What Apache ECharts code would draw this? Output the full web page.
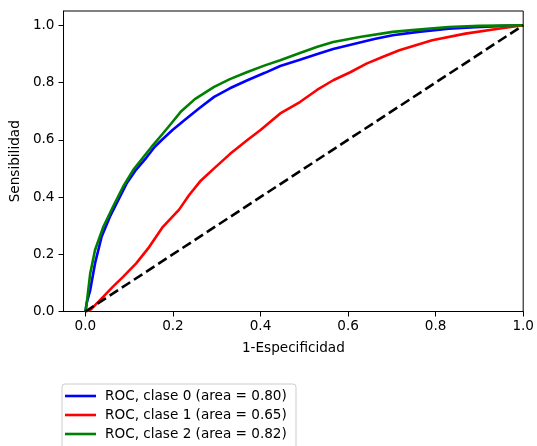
<!DOCTYPE html>
<html>
<head>
<meta charset="utf-8">
<script src="https://cdn.jsdelivr.net/npm/echarts@6/dist/echarts.min.js"></script>
<style>
html,body{margin:0;padding:0;background:#fff;}
#chart{width:537px;height:446px;}
</style>
</head>
<body>
<div id="chart"></div>
<script>
// ---- data ----
const seriesNames = ['ROC, clase 0 (area = 0.80)', 'ROC, clase 1 (area = 0.65)', 'ROC, clase 2 (area = 0.82)'];
const tickValues = [0, 0.2, 0.4, 0.6, 0.8, 1.0];

// clase 0 (blue)
const fpr0 = [0, 0.003, 0.011, 0.022, 0.037, 0.056, 0.079, 0.094, 0.116, 0.139, 0.158, 0.175, 0.199, 0.226, 0.26, 0.294, 0.33, 0.37, 0.41, 0.445, 0.49, 0.53, 0.566, 0.62, 0.66, 0.702, 0.76, 0.83, 0.89, 0.943, 1];
const tpr0 = [0, 0.03, 0.075, 0.168, 0.261, 0.331, 0.401, 0.447, 0.496, 0.537, 0.575, 0.6, 0.634, 0.668, 0.71, 0.75, 0.78, 0.808, 0.834, 0.858, 0.88, 0.9, 0.917, 0.937, 0.952, 0.965, 0.977, 0.988, 0.993, 0.997, 1];

// clase 1 (red)
const fpr1 = [0, 0.011, 0.041, 0.063, 0.086, 0.116, 0.146, 0.177, 0.214, 0.237, 0.264, 0.294, 0.33, 0.37, 0.40, 0.445, 0.49, 0.529, 0.566, 0.605, 0.642, 0.68, 0.717, 0.792, 0.868, 0.943, 1];
const tpr1 = [0, 0.005, 0.052, 0.087, 0.121, 0.168, 0.226, 0.296, 0.356, 0.407, 0.458, 0.5, 0.55, 0.599, 0.634, 0.692, 0.732, 0.774, 0.808, 0.836, 0.866, 0.89, 0.913, 0.948, 0.971, 0.988, 1];

// clase 2 (green)
const fpr2 = [0, 0.003, 0.011, 0.022, 0.041, 0.063, 0.086, 0.109, 0.139, 0.151, 0.177, 0.196, 0.219, 0.25, 0.294, 0.33, 0.37, 0.41, 0.445, 0.49, 0.53, 0.566, 0.63, 0.702, 0.76, 0.83, 0.9, 1];
const tpr2 = [0, 0.029, 0.133, 0.215, 0.296, 0.366, 0.436, 0.494, 0.552, 0.575, 0.622, 0.657, 0.7, 0.742, 0.785, 0.812, 0.837, 0.86, 0.878, 0.903, 0.925, 0.942, 0.96, 0.977, 0.985, 0.994, 0.998, 1];

// chance diagonal
const diagX = [0, 1];
const diagY = [0, 1];

const zip = (xs, ys) => xs.map((x, i) => [x, ys[i]]);

const FONT = 'DejaVu Sans';
const FS = 13.6;

const chart = echarts.init(document.getElementById('chart'), null, {renderer: 'canvas'});

const lineSeries = (name, xs, ys, color) => ({
  name: name,
  type: 'line',
  data: zip(xs, ys),
  showSymbol: false,
  symbol: 'none',
  smooth: false,
  animation: false,
  lineStyle: {color: color, width: 2.6},
  itemStyle: {color: color},
  z: 2
});

chart.setOption({
  animation: false,
  backgroundColor: '#fff',
  textStyle: {fontFamily: FONT},
  grid: {left: 61, right: 12, top: 11, bottom: 134.5, show: true, borderColor: '#000', borderWidth: 1, backgroundColor: 'transparent'},
  graphic: [{
    type: 'rect',
    left: 61.5, top: 383.5,
    shape: {width: 234, height: 80, r: 3},
    style: {fill: '#fff', stroke: '#cccccc', lineWidth: 1},
    z: 0
  }],
  legend: {
    orient: 'vertical',
    left: 65,
    top: 388,
    padding: 0,
    itemGap: 3,
    itemWidth: 31,
    itemHeight: 2.6,
    icon: 'rect',
    data: seriesNames,
    textStyle: {fontFamily: FONT, fontSize: FS, color: '#000', lineHeight: 16, padding: [0, 0, 0, 4]},
    z: 5
  },
  xAxis: {
    type: 'value',
    min: -0.05,
    max: 1.0,
    name: '1-Especificidad',
    nameLocation: 'middle',
    nameGap: 30,
    nameTextStyle: {fontFamily: FONT, fontSize: FS, color: '#000'},
    splitLine: {show: false},
    axisLine: {show: true, onZero: false, lineStyle: {color: '#000', width: 1}},
    axisTick: {show: true, length: 5, inside: false, customValues: tickValues, lineStyle: {color: '#000', width: 1}},
    axisLabel: {
      show: true, margin: 8, customValues: tickValues,
      fontFamily: FONT, fontSize: FS, color: '#000',
      formatter: v => v.toFixed(1)
    }
  },
  yAxis: {
    type: 'value',
    min: 0,
    max: 1.05,
    name: 'Sensibilidad',
    nameLocation: 'middle',
    nameGap: 33,
    nameTextStyle: {fontFamily: FONT, fontSize: FS, color: '#000'},
    splitLine: {show: false},
    axisLine: {show: true, onZero: false, lineStyle: {color: '#000', width: 1}},
    axisTick: {show: true, length: 5, inside: false, customValues: tickValues, lineStyle: {color: '#000', width: 1}},
    axisLabel: {
      show: true, margin: 9, customValues: tickValues,
      fontFamily: FONT, fontSize: FS, color: '#000',
      formatter: v => v.toFixed(1)
    }
  },
  series: [
    lineSeries(seriesNames[0], fpr0, tpr0, '#0000ff'),
    lineSeries(seriesNames[1], fpr1, tpr1, '#ff0000'),
    lineSeries(seriesNames[2], fpr2, tpr2, '#008000'),
    {
      name: 'diag',
      type: 'line',
      data: zip(diagX, diagY),
      showSymbol: false,
      symbol: 'none',
      animation: false,
      lineStyle: {color: '#000', width: 2.6, type: [10, 4.5]},
      z: 3
    }
  ]
});
</script>
</body>
</html>
